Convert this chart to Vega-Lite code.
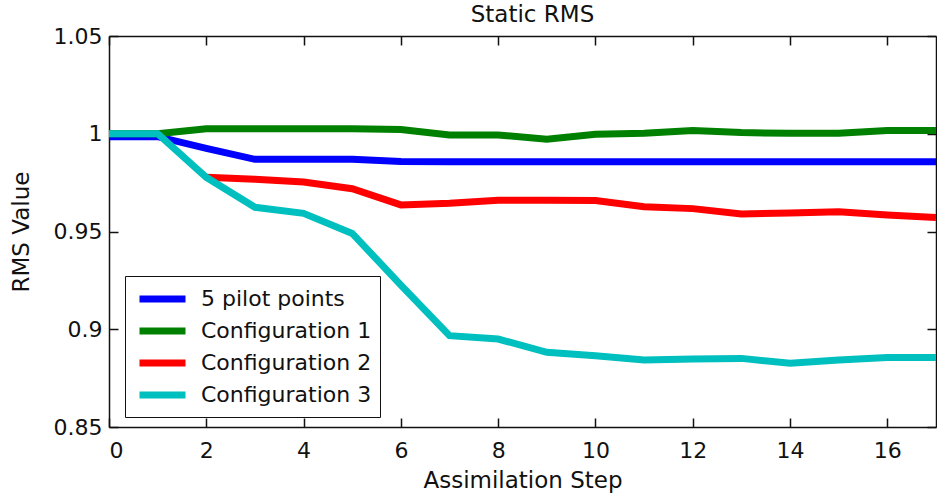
{
  "$schema": "https://vega.github.io/schema/vega-lite/v6.json",
  "width": 827,
  "height": 391,
  "autosize": {"type": "none"},
  "padding": {"left": 109, "top": 36, "right": 1, "bottom": 68},
  "background": "white",
  "config": {
    "font": "DejaVu Sans",
    "view": {"stroke": null},
    "axis": {
      "grid": false,
      "domainColor": "#111111",
      "domainWidth": 1.5,
      "tickColor": "#111111",
      "tickWidth": 1.5,
      "tickSize": -9,
      "labelFont": "DejaVu Sans",
      "labelFontSize": 22,
      "labelColor": "#111111",
      "titleFont": "DejaVu Sans",
      "titleFontSize": 23,
      "titleFontWeight": "normal",
      "titleColor": "#111111"
    }
  },
  "title": {"text": "Static RMS", "fontSize": 23, "fontWeight": "normal", "font": "DejaVu Sans", "color": "#111111", "offset": -2, "dx": 10},
  "data": {"values": [
    {"step": 0, "series": "5 pilot points", "rms": 0.9985},
    {"step": 1, "series": "5 pilot points", "rms": 0.9985},
    {"step": 2, "series": "5 pilot points", "rms": 0.9925},
    {"step": 3, "series": "5 pilot points", "rms": 0.9869},
    {"step": 4, "series": "5 pilot points", "rms": 0.9869},
    {"step": 5, "series": "5 pilot points", "rms": 0.9869},
    {"step": 6, "series": "5 pilot points", "rms": 0.9858},
    {"step": 7, "series": "5 pilot points", "rms": 0.9857},
    {"step": 8, "series": "5 pilot points", "rms": 0.9857},
    {"step": 9, "series": "5 pilot points", "rms": 0.9857},
    {"step": 10, "series": "5 pilot points", "rms": 0.9857},
    {"step": 11, "series": "5 pilot points", "rms": 0.9857},
    {"step": 12, "series": "5 pilot points", "rms": 0.9857},
    {"step": 13, "series": "5 pilot points", "rms": 0.9857},
    {"step": 14, "series": "5 pilot points", "rms": 0.9857},
    {"step": 15, "series": "5 pilot points", "rms": 0.9857},
    {"step": 16, "series": "5 pilot points", "rms": 0.9857},
    {"step": 17, "series": "5 pilot points", "rms": 0.9857},
    {"step": 0, "series": "Configuration 1", "rms": 1.0},
    {"step": 1, "series": "Configuration 1", "rms": 1.0},
    {"step": 2, "series": "Configuration 1", "rms": 1.0026},
    {"step": 3, "series": "Configuration 1", "rms": 1.0025},
    {"step": 4, "series": "Configuration 1", "rms": 1.0025},
    {"step": 5, "series": "Configuration 1", "rms": 1.0025},
    {"step": 6, "series": "Configuration 1", "rms": 1.0022},
    {"step": 7, "series": "Configuration 1", "rms": 0.9994},
    {"step": 8, "series": "Configuration 1", "rms": 0.9994},
    {"step": 9, "series": "Configuration 1", "rms": 0.9972},
    {"step": 10, "series": "Configuration 1", "rms": 0.9997},
    {"step": 11, "series": "Configuration 1", "rms": 1.0002},
    {"step": 12, "series": "Configuration 1", "rms": 1.0016},
    {"step": 13, "series": "Configuration 1", "rms": 1.0006},
    {"step": 14, "series": "Configuration 1", "rms": 1.0002},
    {"step": 15, "series": "Configuration 1", "rms": 1.0002},
    {"step": 16, "series": "Configuration 1", "rms": 1.0016},
    {"step": 17, "series": "Configuration 1", "rms": 1.0016},
    {"step": 2, "series": "Configuration 2", "rms": 0.9777},
    {"step": 3, "series": "Configuration 2", "rms": 0.9767},
    {"step": 4, "series": "Configuration 2", "rms": 0.9753},
    {"step": 5, "series": "Configuration 2", "rms": 0.9719},
    {"step": 6, "series": "Configuration 2", "rms": 0.9636},
    {"step": 7, "series": "Configuration 2", "rms": 0.9645},
    {"step": 8, "series": "Configuration 2", "rms": 0.966},
    {"step": 9, "series": "Configuration 2", "rms": 0.966},
    {"step": 10, "series": "Configuration 2", "rms": 0.9658},
    {"step": 11, "series": "Configuration 2", "rms": 0.9627},
    {"step": 12, "series": "Configuration 2", "rms": 0.9617},
    {"step": 13, "series": "Configuration 2", "rms": 0.959},
    {"step": 14, "series": "Configuration 2", "rms": 0.9595},
    {"step": 15, "series": "Configuration 2", "rms": 0.9601},
    {"step": 16, "series": "Configuration 2", "rms": 0.9584},
    {"step": 17, "series": "Configuration 2", "rms": 0.9571},
    {"step": 0, "series": "Configuration 3", "rms": 1.0},
    {"step": 1, "series": "Configuration 3", "rms": 1.0},
    {"step": 2, "series": "Configuration 3", "rms": 0.9777},
    {"step": 3, "series": "Configuration 3", "rms": 0.9624},
    {"step": 4, "series": "Configuration 3", "rms": 0.9593},
    {"step": 5, "series": "Configuration 3", "rms": 0.949},
    {"step": 6, "series": "Configuration 3", "rms": 0.9226},
    {"step": 7, "series": "Configuration 3", "rms": 0.8967},
    {"step": 8, "series": "Configuration 3", "rms": 0.895},
    {"step": 9, "series": "Configuration 3", "rms": 0.8882},
    {"step": 10, "series": "Configuration 3", "rms": 0.8865},
    {"step": 11, "series": "Configuration 3", "rms": 0.8843},
    {"step": 12, "series": "Configuration 3", "rms": 0.8848},
    {"step": 13, "series": "Configuration 3", "rms": 0.8851},
    {"step": 14, "series": "Configuration 3", "rms": 0.8826},
    {"step": 15, "series": "Configuration 3", "rms": 0.8843},
    {"step": 16, "series": "Configuration 3", "rms": 0.8856},
    {"step": 17, "series": "Configuration 3", "rms": 0.8856}
  ]},
  "layer": [
    {
      "mark": {"type": "line", "strokeWidth": 7, "clip": true},
      "encoding": {
        "x": {
          "field": "step", "type": "quantitative",
          "scale": {"domain": [0, 17], "nice": false},
          "axis": {"orient": "bottom", "values": [0, 2, 4, 6, 8, 10, 12, 14, 16], "title": "Assimilation Step", "labelPadding": 22, "titlePadding": 8}
        },
        "y": {
          "field": "rms", "type": "quantitative",
          "scale": {"domain": [0.85, 1.05], "nice": false, "zero": false},
          "axis": {"orient": "left", "values": [0.85, 0.9, 0.95, 1, 1.05], "format": "~g", "title": "RMS Value", "labelPadding": 16, "titlePadding": 20}
        },
        "color": {
          "field": "series", "type": "nominal",
          "scale": {"domain": ["5 pilot points", "Configuration 1", "Configuration 2", "Configuration 3"], "range": ["#0000ff", "#008000", "#ff0000", "#00bfbf"]},
          "legend": {
            "orient": "none", "legendX": 16, "legendY": 240,
            "title": null,
            "strokeColor": "#111111", "fillColor": "white",
            "padding": 8,
            "labelFont": "DejaVu Sans", "labelFontSize": 22, "labelColor": "#111111",
            "labelLimit": 400,
            "labelExpr": "datum.label + '  '",
            "symbolType": "M-1,0H3", "symbolSize": 529, "symbolStrokeWidth": 7,
            "symbolOffset": 3,
            "rowPadding": 3,
            "labelOffset": 35
          }
        }
      }
    },
    {
      "mark": {"type": "line", "opacity": 0},
      "encoding": {
        "x": {
          "field": "step", "type": "quantitative",
          "axis": {"orient": "top", "values": [0, 2, 4, 6, 8, 10, 12, 14, 16], "labels": false, "title": null}
        },
        "y": {
          "field": "rms", "type": "quantitative",
          "axis": {"orient": "right", "values": [0.85, 0.9, 0.95, 1, 1.05], "labels": false, "title": null}
        },
        "detail": {"field": "series"}
      }
    }
  ],
  "resolve": {"axis": {"x": "independent", "y": "independent"}}
}
